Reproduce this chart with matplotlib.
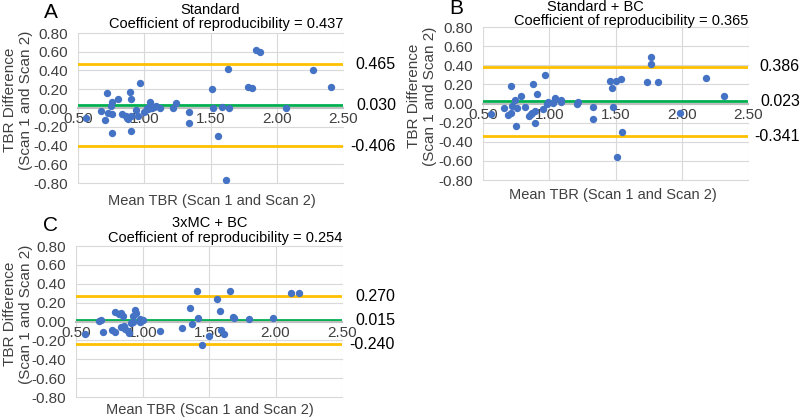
import matplotlib
matplotlib.use("Agg")
import matplotlib.pyplot as plt
from matplotlib.ticker import FormatStrFormatter, MultipleLocator

plt.rcParams['font.family'] = ['Liberation Sans', 'DejaVu Sans']
plt.rcParams['axes.unicode_minus'] = False

# panel A - Standard
a_x = [0.56, 0.67, 0.70, 0.72, 0.73, 0.75, 0.76, 0.76, 0.76, 0.80, 0.83, 0.86, 0.87, 0.88,
       0.89, 0.90, 0.90, 0.90, 0.94, 0.95, 0.97, 1.00, 1.02, 1.03, 1.04, 1.05, 1.06, 1.07,
       1.09, 1.12, 1.22, 1.24, 1.34, 1.34, 1.51, 1.52, 1.56, 1.59, 1.62, 1.63, 1.64, 1.78,
       1.81, 1.84, 1.87, 2.07, 2.27, 2.41]
a_y = [-0.11, -0.03, -0.13, 0.16, -0.05, 0.02, 0.06, -0.27, -0.06, 0.10, -0.06, -0.09, -0.11, -0.12,
       0.17, -0.09, 0.10, -0.24, -0.02, -0.08, 0.27, -0.04, 0.00, -0.01, 0.06, 0.00, 0.00, 0.01,
       0.02, 0.00, 0.00, 0.05, -0.04, -0.16, 0.20, 0.00, -0.30, 0.01, -0.77, 0.42, 0.00, 0.22,
       0.21, 0.62, 0.60, 0.00, 0.41, 0.22]
a_lines = [0.465, 0.030, -0.406]

# panel B - Standard + BC
b_x = [0.56, 0.66, 0.69, 0.71, 0.71, 0.72, 0.74, 0.75, 0.76, 0.79, 0.82, 0.85, 0.86, 0.87, 0.88,
       0.89, 0.89, 0.91, 0.95, 0.97, 0.98, 0.99, 1.03, 1.04, 1.04, 1.09, 1.09, 1.21, 1.22, 1.33,
       1.33, 1.46, 1.47, 1.48, 1.50, 1.51, 1.54, 1.55, 1.74, 1.77, 1.77, 1.82, 1.99, 2.18, 2.32]
b_y = [-0.11, -0.05, -0.12, -0.10, 0.18, -0.03, 0.04, -0.24, -0.05, 0.08, -0.04, -0.13, -0.11, -0.10, 0.20,
       -0.08, -0.20, 0.10, -0.06, 0.30, -0.01, 0.02, 0.01, 0.05, 0.06, 0.04, 0.02, -0.01, 0.02, -0.04,
       -0.16, 0.24, 0.16, -0.04, 0.24, -0.56, 0.26, -0.30, 0.22, 0.41, 0.49, 0.22, -0.10, 0.27, 0.08]
b_lines = [0.386, 0.023, -0.341]

# panel C - 3xMC + BC
c_x = [0.57, 0.67, 0.69, 0.70, 0.77, 0.79, 0.79, 0.82, 0.84, 0.84, 0.85, 0.86, 0.87, 0.89, 0.90,
       0.91, 0.93, 0.93, 0.94, 0.95, 0.98, 0.98, 0.99, 1.00, 1.13, 1.30, 1.36, 1.37, 1.41, 1.42,
       1.45, 1.50, 1.56, 1.58, 1.59, 1.61, 1.66, 1.68, 1.69, 1.80, 1.98, 2.12, 2.18]
c_y = [-0.13, 0.01, 0.02, -0.11, -0.09, -0.11, 0.10, 0.08, -0.06, 0.09, 0.06, -0.05, -0.08, -0.10, -0.12,
       -0.02, 0.06, 0.00, 0.12, 0.09, 0.03, -0.01, 0.01, 0.02, -0.10, -0.07, 0.14, -0.03, 0.32, 0.04,
       -0.25, -0.15, 0.24, 0.11, -0.09, -0.13, 0.32, 0.05, 0.04, 0.03, 0.04, 0.30, 0.30]
c_lines = [0.270, 0.015, -0.240]

W, H = 800, 419
fig = plt.figure(figsize=(W / 100, H / 100), dpi=100)


def px(x, y):
    # pixel position (from top-left) -> figure fraction
    return x / W, 1 - y / H


def panel(box, xs, ys, lines, letter, name, cor, letter_xy, name_xy, cor_xy, ylab_xy, xlab_xy, val_x):
    left, top, right, bottom = box
    ax = fig.add_axes([left / W, 1 - bottom / H, (right - left) / W, (bottom - top) / H])
    ax.set_xlim(0.5, 2.5)
    ax.set_ylim(-0.8, 0.8)
    ax.xaxis.set_major_locator(MultipleLocator(0.5))
    ax.yaxis.set_major_locator(MultipleLocator(0.2))
    ax.xaxis.set_major_formatter(FormatStrFormatter('%.2f'))
    ax.yaxis.set_major_formatter(FormatStrFormatter('%.2f'))
    ax.grid(True, color='#d9d9d9', lw=0.8, zorder=0)
    for g in ax.get_xgridlines() + ax.get_ygridlines():
        g.set_clip_on(False)
    for s in ['top', 'right', 'left']:
        ax.spines[s].set_visible(False)
    ax.spines['bottom'].set_position(('data', 0))
    ax.spines['bottom'].set_color('#bfbfbf')
    ax.spines['bottom'].set_linewidth(1.5)
    ax.tick_params(length=0, labelsize=11, colors='#404040')
    ax.tick_params(axis='x', pad=3)
    ax.tick_params(axis='y', pad=7)
    ax.set_axisbelow(True)

    ax.axhline(lines[0], color='#ffc000', lw=2, zorder=2)
    ax.axhline(lines[1], color='#00b050', lw=2, zorder=2)
    ax.axhline(lines[2], color='#ffc000', lw=2, zorder=2)
    ax.scatter(xs, ys, s=28, color='#4472c4', zorder=3, linewidths=0)

    for v in lines:
        yy = ax.transData.transform((1, v))[1]
        fig.text(val_x / W, yy / H, '%.3f' % v, ha='right', va='center', fontsize=11.5, color='black')

    fig.text(*px(*letter_xy), letter, ha='center', va='center', fontsize=15)
    fig.text(*px(*name_xy), name, ha='center', va='center', fontsize=10.5)
    fig.text(*px(*cor_xy), 'Coefficient of reproducibility = %.3f' % cor, ha='right', va='center', fontsize=10.5)
    fig.text(*px(*ylab_xy), 'TBR Difference\n(Scan 1 and Scan 2)', ha='center', va='center',
             rotation=90, fontsize=11, color='#404040', linespacing=1.2)
    fig.text(*px(*xlab_xy), 'Mean TBR (Scan 1 and Scan 2)', ha='center', va='center',
             fontsize=10.5, color='#404040')
    return ax


panel((78, 33, 343, 183), a_x, a_y, a_lines, 'A', 'Standard', 0.437,
      (51, 13), (210, 10), (343, 24), (18, 100), (212, 201), 396)
panel((483, 27, 748, 180), b_x, b_y, b_lines, 'B', 'Standard + BC', 0.365,
      (456, 9), (595, 7), (748, 21), (422, 96), (613, 195), 800)
panel((76, 246, 342, 397), c_x, c_y, c_lines, 'C', '3xMC + BC', 0.254,
      (51, 225), (210, 223), (342, 238), (18, 314), (210, 410), 395)

fig.savefig('out.png', dpi=100)
